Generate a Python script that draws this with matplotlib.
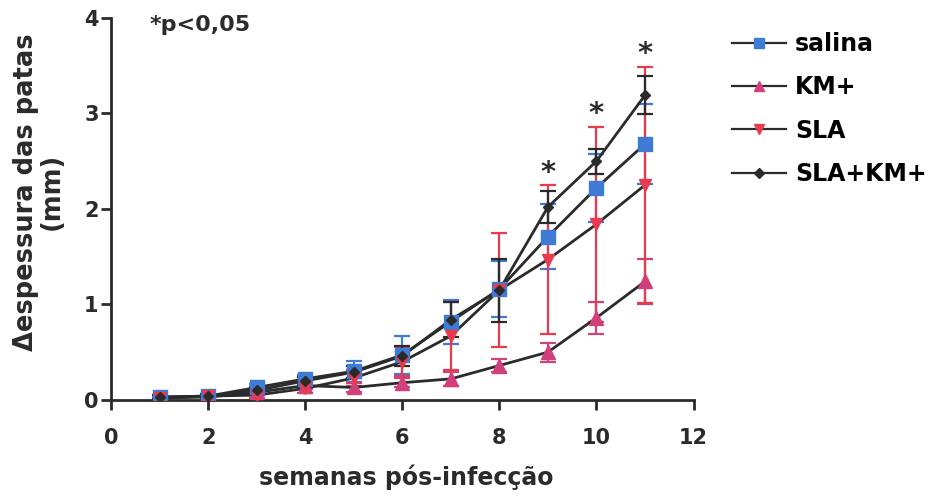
import numpy as np
import matplotlib
matplotlib.use("Agg")
import matplotlib.pyplot as plt
from matplotlib.lines import Line2D

plt.rcParams['font.family'] = ['DejaVu Sans']
plt.rcParams['font.weight'] = 'bold'

ink = '#2b2b2b'

weeks = np.arange(1, 12)

salina = [0.03, 0.04, 0.13, 0.22, 0.30, 0.47, 0.82, 1.16, 1.71, 2.22, 2.68]
salina_err = [0.02, 0.02, 0.04, 0.04, 0.11, 0.20, 0.23, 0.29, 0.34, 0.36, 0.42]

km = [0.02, 0.03, 0.08, 0.15, 0.13, 0.18, 0.22, 0.36, 0.50, 0.86, 1.24]
km_err = [0.01, 0.02, 0.03, 0.04, 0.05, 0.05, 0.07, 0.07, 0.10, 0.17, 0.24]

sla = [0.02, 0.04, 0.05, 0.12, 0.23, 0.40, 0.67, 1.15, 1.47, 1.84, 2.25]
sla_err = [0.02, 0.02, 0.03, 0.05, 0.08, 0.15, 0.36, 0.60, 0.78, 1.02, 1.24]

slakm = [0.03, 0.04, 0.10, 0.20, 0.29, 0.46, 0.84, 1.15, 2.02, 2.50, 3.19]
slakm_err = [0.02, 0.02, 0.03, 0.04, 0.06, 0.10, 0.18, 0.33, 0.17, 0.13, 0.20]

signif_weeks = [9, 10, 11]

# name, means, sem, marker, colour, marker size (plot), marker size (legend)
series = [
    ('salina', salina, salina_err, 's', '#3d7bd4', 9.5, 7),
    ('KM+', km, km_err, '^', '#d2407c', 9.5, 7.5),
    ('SLA', sla, sla_err, 'v', '#ea3a4e', 8.5, 7.5),
    ('SLA+KM+', slakm, slakm_err, 'D', ink, 5, 5),
]

fig = plt.figure(figsize=(9.5, 4.98), dpi=100)
ax = fig.add_axes([0.117, 0.197, 0.613, 0.767])

handles = []
for name, y, err, mk, col, ms, lms in series:
    ax.errorbar(weeks, y, yerr=err, fmt='none', ecolor=col, elinewidth=1.6,
                capsize=6, capthick=1.6, zorder=2)
    ax.plot(weeks, y, '-', color=ink, lw=2.0, zorder=3)
    ax.plot(weeks, y, mk, color=col, ms=ms, mec=col, zorder=4)
    handles.append(Line2D([], [], color=ink, lw=1.6, marker=mk, ms=lms,
                          mfc=col, mec=col, label=name))

# asterisks above the highest error bar
for w in signif_weeks:
    i = w - 1
    top = max(s[1][i] + s[2][i] for s in series)
    ax.text(w, top + 0.13, '*', ha='center', va='center', fontsize=21,
            color=ink, fontweight='bold')

ax.text(0.8, 3.93, '*p<0,05', ha='left', va='center', fontsize=16,
        color=ink, fontweight='bold')

ax.set_xlim(0, 12)
ax.set_ylim(0, 4)
ax.set_xticks(np.arange(0, 13, 2))
ax.set_yticks(np.arange(0, 5, 1))
for s in ['top', 'right']:
    ax.spines[s].set_visible(False)
for s in ['left', 'bottom']:
    ax.spines[s].set_linewidth(2)
    ax.spines[s].set_color(ink)
ax.tick_params(width=2, length=7, color=ink, labelcolor=ink, labelsize=15)
ax.tick_params(axis='x', pad=13)
ax.tick_params(axis='y', pad=2)
for lab in ax.get_xticklabels() + ax.get_yticklabels():
    lab.set_fontweight('bold')

ax.set_xlabel('semanas pós-infecção', fontsize=17, fontweight='bold',
              color=ink, va='top')
ax.xaxis.set_label_coords(0.506, -0.168)
ax.set_ylabel('\u0394espessura das patas\n(mm)', fontsize=18.5,
              fontweight='bold', color=ink, linespacing=1.0)
ax.yaxis.set_label_coords(-0.08, 0.545)

fig.legend(handles=handles, loc='upper left', bbox_to_anchor=(0.77, 0.936),
           frameon=False, borderpad=0, borderaxespad=0,
           handlelength=2.3, handletextpad=0.4,
           labelspacing=0.82, prop={'weight': 'bold', 'size': 17})

fig.savefig('out.png', dpi=100)
